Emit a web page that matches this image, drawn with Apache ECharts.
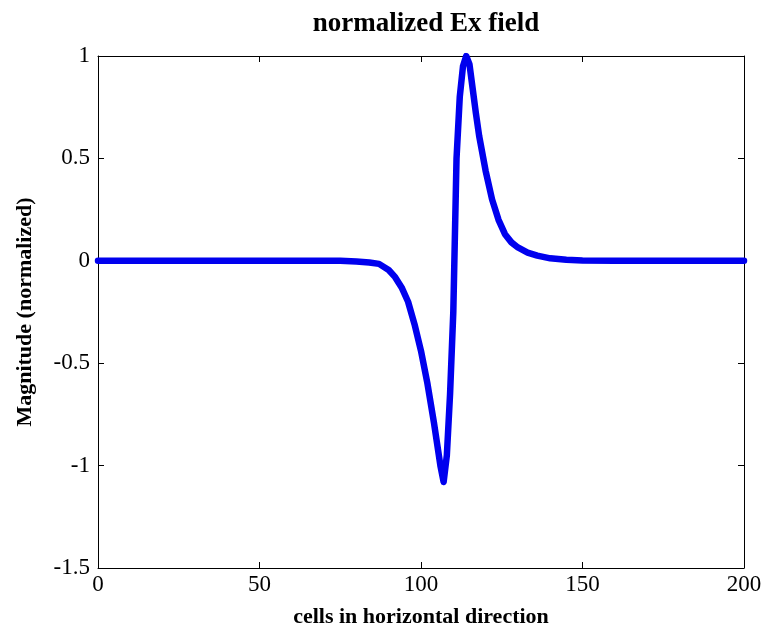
<!DOCTYPE html>
<html>
<head>
<meta charset="utf-8">
<script src="https://cdn.jsdelivr.net/npm/echarts@6/dist/echarts.min.js"></script>
<style>html,body{margin:0;padding:0;background:#fff;}#chart{width:770px;height:636px;}</style>
</head>
<body>
<div id="chart"></div>
<script>
var cells  = [0, 20, 40, 60, 75, 80, 84, 87, 90, 92, 94, 96, 98, 100, 102, 104, 106, 107, 108, 109, 110, 111, 112, 113, 114, 115, 116, 117, 118, 120, 122, 124, 126, 128, 130, 133, 136, 140, 145, 150, 160, 180, 200];
var values = [0, 0, 0, 0, 0, -0.003, -0.008, -0.015, -0.045, -0.08, -0.13, -0.2, -0.31, -0.44, -0.6, -0.79, -1.0, -1.08, -0.95, -0.65, -0.25, 0.5, 0.8, 0.95, 1.0, 0.96, 0.84, 0.72, 0.61, 0.44, 0.3, 0.2, 0.13, 0.09, 0.065, 0.04, 0.025, 0.012, 0.005, 0.002, 0, 0, 0];
var xTicks = [0, 50, 100, 150, 200];
var yTicks = [-1.5, -1, -0.5, 0, 0.5, 1];

var data = cells.map(function (c, i) { return [c, values[i]]; });
var font = '"Liberation Serif", "Times New Roman", serif';
var chart = echarts.init(document.getElementById('chart'));
var axisLine = { show: true, onZero: false, lineStyle: { color: '#000', width: 1 } };
var tick = { show: true, inside: true, length: 6, lineStyle: { color: '#000', width: 1 } };
chart.setOption({
  animation: false,
  backgroundColor: '#fff',
  title: {
    text: 'normalized Ex field',
    left: 421, top: 6, textAlign: 'center',
    textStyle: { fontFamily: font, fontWeight: 'bold', fontSize: 27, color: '#000' }
  },
  grid: { left: 98, right: 26, top: 56, bottom: 68 },
  xAxis: [{
    type: 'value', min: 0, max: 200, interval: 50,
    axisLine: axisLine, axisTick: tick, splitLine: { show: false },
    axisLabel: { fontFamily: font, fontSize: 23, color: '#000', margin: 5,
      formatter: function (v) { return xTicks.indexOf(v) >= 0 ? String(v) : ''; } },
    name: 'cells in horizontal direction', nameLocation: 'middle', nameGap: 38,
    nameTextStyle: { fontFamily: font, fontWeight: 'bold', fontSize: 22, color: '#000' }
  }, {
    type: 'value', position: 'top', min: 0, max: 200, interval: 50,
    axisLine: axisLine, axisTick: tick, axisLabel: { show: false }, splitLine: { show: false }
  }],
  yAxis: [{
    type: 'value', min: -1.5, max: 1, interval: 0.5,
    axisLine: axisLine, axisTick: tick, splitLine: { show: false },
    axisLabel: { fontFamily: font, fontSize: 23, color: '#000', margin: 8,
      formatter: function (v) { return yTicks.indexOf(v) >= 0 ? String(v) : ''; } },
    name: 'Magnitude (normalized)', nameLocation: 'middle', nameGap: 62, nameRotate: 90,
    nameTextStyle: { fontFamily: font, fontWeight: 'bold', fontSize: 22, color: '#000' }
  }, {
    type: 'value', position: 'right', min: -1.5, max: 1, interval: 0.5,
    axisLine: axisLine, axisTick: tick, axisLabel: { show: false }, splitLine: { show: false }
  }],
  series: [{
    type: 'line', data: data, showSymbol: false, symbol: 'none',
    lineStyle: { color: '#0000ee', width: 6.5, join: 'round', cap: 'round' },
    smooth: false
  }]
});
</script>
</body>
</html>
